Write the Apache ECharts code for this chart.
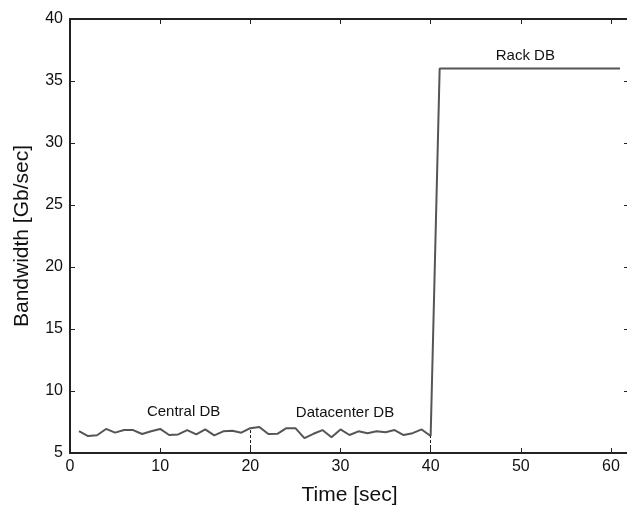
<!DOCTYPE html>
<html><head><meta charset="utf-8">
<script src="https://cdn.jsdelivr.net/npm/echarts@6/dist/echarts.min.js"></script>
<style>html,body{margin:0;padding:0;background:#fff}#c{width:627px;height:505px}</style>
</head><body><div id="c"></div>
<script>
var times = [1,2,3,4,5,6,7,8,9,10,11,12,13,14,15,16,17,18,19,20,21,22,23,24,25,26,27,28,29,30,31,32,33,34,35,36,37,38,39,40,41,42,43,44,45,46,47,48,49,50,51,52,53,54,55,56,57,58,59,60,61];
var bandwidth = [6.77,6.37,6.43,6.94,6.64,6.85,6.85,6.53,6.75,6.94,6.45,6.5,6.85,6.5,6.9,6.42,6.75,6.8,6.64,7.0,
  7.1,6.53,6.55,7.0,7.0,6.2,6.55,6.85,6.27,6.9,6.45,6.75,6.6,6.75,6.68,6.85,6.45,6.6,6.9,6.37,
  36,36,36,36,36,36,36,36,36,36,36,36,36,36,36,36,36,36,36,36,36];
var xTicks = [0,10,20,30,40,50,60];
var yTicks = [5,10,15,20,25,30,35,40];
var dividers = [20, 40];
var phaseNames = ['Central DB','Datacenter DB','Rack DB'];
var phaseLabelX = [12.6, 30.5, 50.5];
var phaseLabelY = [8.3, 8.2, 37.0];

var pts = times.map(function(t,i){return [t, bandwidth[i]];});
var font = 'Liberation Sans, Arial, sans-serif';
var axisCommon = {
  axisLine:{show:true, onZero:false, lineStyle:{color:'#222', width:2}},
  axisTick:{show:true, inside:true, length:5, lineStyle:{color:'#222', width:1}},
  splitLine:{show:false}
};
function ax(extra){ return Object.assign({}, JSON.parse(JSON.stringify(axisCommon)), extra); }

var chart = echarts.init(document.getElementById('c'), null, {renderer:'canvas'});
chart.setOption({
  backgroundColor:'#fff',
  animation:false,
  grid:{left:70, top:19, width:559, height:434, outerBoundsMode:'none', containLabel:false},
  xAxis:[
    ax({type:'value', min:0, max:62, interval:10, position:'bottom',
      name:'Time [sec]', nameLocation:'middle', nameGap:32,
      nameTextStyle:{fontFamily:font, fontSize:21, color:'#111'},
      axisLabel:{fontFamily:font, fontSize:16, color:'#111', margin:6,
        formatter:function(v){return xTicks.indexOf(v)>=0 ? String(v) : '';}}}),
    ax({type:'value', min:0, max:62, interval:10, position:'top', axisLabel:{show:false}})
  ],
  yAxis:[
    ax({type:'value', min:5, max:40, interval:5, position:'left',
      name:'Bandwidth [Gb/sec]', nameLocation:'middle', nameGap:37,
      nameTextStyle:{fontFamily:font, fontSize:21, color:'#111'},
      axisLabel:{fontFamily:font, fontSize:16, color:'#111', margin:7,
        formatter:function(v){return yTicks.indexOf(v)>=0 ? String(v) : '';}}}),
    ax({type:'value', min:5, max:40, interval:5, position:'right', axisLabel:{show:false}})
  ],
  series:[
    {type:'line', data:pts, symbol:'none', lineStyle:{color:'#555', width:2}, z:3,
      markLine:{silent:true, symbol:'none', label:{show:false},
        lineStyle:{color:'#222', type:[3,2], width:1},
        data: dividers.map(function(d){
          return [{coord:[d,5]},{coord:[d, bandwidth[times.indexOf(d)]]}];
        })},
      markPoint:{silent:true, symbol:'circle', symbolSize:0,
        label:{show:true, position:'inside', fontFamily:font, fontSize:15, color:'#111',
          formatter:function(p){return p.name;}},
        data: phaseNames.map(function(n,i){return {name:n, coord:[phaseLabelX[i], phaseLabelY[i]]};})}
    }
  ]
});
</script></body></html>
